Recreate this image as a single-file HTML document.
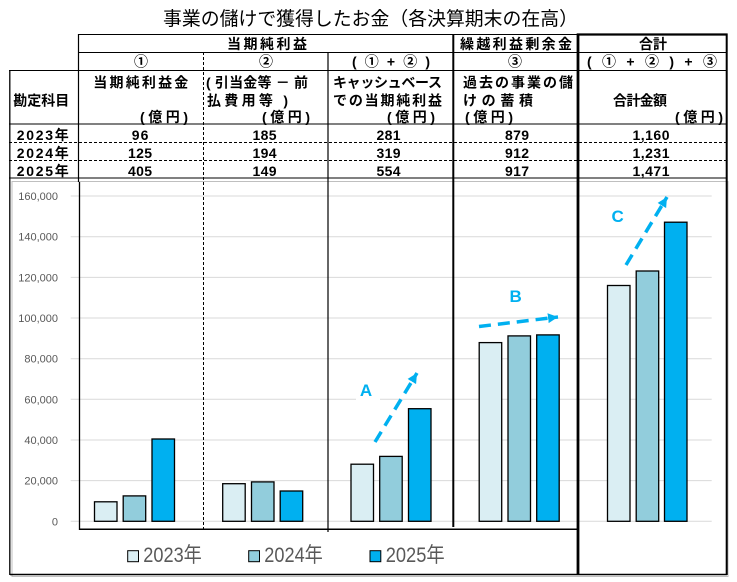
<!DOCTYPE html>
<html><head><meta charset="utf-8"><style>
html,body{margin:0;padding:0;background:#fff;}
svg{display:block;}
.t{font-family:"Liberation Sans","Noto Sans CJK JP",sans-serif;font-weight:bold;font-size:14px;fill:#000;}
.y{font-family:"Liberation Sans",sans-serif;font-size:11px;fill:#595959;}
.lg{font-family:"Liberation Sans","Noto Sans CJK JP",sans-serif;font-size:21px;fill:#595959;}
.ab{font-family:"Liberation Sans",sans-serif;font-weight:bold;font-size:17px;fill:#00B0F0;}
</style></head><body>
<svg width="737" height="582" viewBox="0 0 737 582" xmlns="http://www.w3.org/2000/svg">
<defs>
<marker id="ah" markerUnits="userSpaceOnUse" markerWidth="12" markerHeight="12" refX="10" refY="5" orient="auto">
<path d="M0,0 L10,5 L0,10 z" fill="#00B0F0"/>
</marker>
</defs>
<rect x="0" y="0" width="737" height="582" fill="#fff"/>

<!-- Title -->
<text x="163" y="25" textLength="415" lengthAdjust="spacingAndGlyphs" style="font-family:'Liberation Sans','Noto Sans CJK JP',sans-serif;font-size:19px;fill:#000;">事業の儲けで獲得したお金（各決算期末の在高）</text>

<!-- chart gray border -->
<rect x="12" y="181.5" width="716" height="395" fill="none" stroke="#BFBFBF" stroke-width="1"/>

<!-- gridlines -->
<g stroke="#D9D9D9" stroke-width="1">
<line x1="70.7" x2="711.7" y1="521.3" y2="521.3"/>
<line x1="70.7" x2="711.7" y1="480.6" y2="480.6"/>
<line x1="70.7" x2="711.7" y1="440" y2="440"/>
<line x1="70.7" x2="711.7" y1="399.3" y2="399.3"/>
<line x1="70.7" x2="711.7" y1="358.7" y2="358.7"/>
<line x1="70.7" x2="711.7" y1="318" y2="318"/>
<line x1="70.7" x2="711.7" y1="277.4" y2="277.4"/>
<line x1="70.7" x2="711.7" y1="236.7" y2="236.7"/>
<line x1="70.7" x2="711.7" y1="196" y2="196"/>
</g>

<!-- y labels -->
<g class="y" text-anchor="end">
<text x="58" y="525.3">0</text>
<text x="58" y="484.6">20,000</text>
<text x="58" y="444">40,000</text>
<text x="58" y="403.3">60,000</text>
<text x="58" y="362.7">80,000</text>
<text x="58" y="322">100,000</text>
<text x="58" y="281.4">120,000</text>
<text x="58" y="240.7">140,000</text>
<text x="58" y="200">160,000</text>
</g>

<!-- bars -->
<g stroke="#000" stroke-width="1.3">
<rect x="94.5" y="501.8" width="22.5" height="19.5" fill="#DAEEF3"/>
<rect x="123.2" y="495.9" width="22.5" height="25.4" fill="#92CDDC"/>
<rect x="152" y="439.0" width="22.5" height="82.3" fill="#00B0F0"/>

<rect x="222.7" y="483.7" width="22.5" height="37.6" fill="#DAEEF3"/>
<rect x="251.5" y="481.9" width="22.5" height="39.4" fill="#92CDDC"/>
<rect x="280.2" y="491.0" width="22.5" height="30.3" fill="#00B0F0"/>

<rect x="351" y="464.2" width="22.5" height="57.1" fill="#DAEEF3"/>
<rect x="379.7" y="456.4" width="22.5" height="64.9" fill="#92CDDC"/>
<rect x="408.5" y="408.7" width="22.5" height="112.6" fill="#00B0F0"/>

<rect x="479.2" y="342.6" width="22.5" height="178.7" fill="#DAEEF3"/>
<rect x="508" y="335.9" width="22.5" height="185.4" fill="#92CDDC"/>
<rect x="536.7" y="334.9" width="22.5" height="186.4" fill="#00B0F0"/>

<rect x="607.5" y="285.5" width="22.5" height="235.8" fill="#DAEEF3"/>
<rect x="636.2" y="271.0" width="22.5" height="250.3" fill="#92CDDC"/>
<rect x="664.5" y="222.2" width="22.5" height="299.1" fill="#00B0F0"/>
</g>

<!-- arrows & labels -->
<rect x="356" y="378" width="24" height="24" fill="#fff"/>
<text class="ab" x="366" y="396" text-anchor="middle">A</text>
<text class="ab" x="515.7" y="302" text-anchor="middle">B</text>
<text class="ab" x="617.7" y="222" text-anchor="middle">C</text>
<g stroke="#00B0F0" stroke-width="3.5" stroke-dasharray="12,7" fill="none">
<line x1="375" y1="442" x2="417" y2="373" marker-end="url(#ah)"/>
<line x1="479" y1="326.5" x2="558" y2="317" marker-end="url(#ah)"/>
<line x1="626" y1="265" x2="667" y2="197" marker-end="url(#ah)"/>
</g>

<!-- table horizontal lines -->
<g stroke="#000" stroke-width="1">
<line x1="78" x2="578" y1="34.5" y2="34.5"/>
<line x1="78" x2="727" y1="52.5" y2="52.5"/>
<line x1="9" x2="727" y1="70.5" y2="70.5"/>
<line x1="9" x2="727" y1="124" y2="124"/>
<line x1="9" x2="727" y1="178" y2="178"/>
<line x1="9" x2="727" y1="142.5" y2="142.5" stroke-dasharray="3,2"/>
<line x1="9" x2="727" y1="160.5" y2="160.5" stroke-dasharray="3,2"/>
<line x1="10" x2="727" y1="574.5" y2="574.5" stroke-width="1.5"/>
<line x1="79.5" x2="578" y1="529.3" y2="529.3" stroke-width="1.5"/>
</g>
<line x1="577" x2="727.5" y1="34.5" y2="34.5" stroke="#000" stroke-width="2.2"/>

<!-- verticals -->
<g stroke="#000">
<line x1="9.8" x2="9.8" y1="70" y2="575" stroke-width="1.3"/>
<line x1="78.5" x2="78.5" y1="34" y2="182" stroke-width="1.2"/>
<line x1="79.5" x2="79.5" y1="182" y2="530" stroke-width="1.3"/>
<line x1="203.5" x2="203.5" y1="52" y2="529" stroke-width="1" stroke-dasharray="3,2"/>
<line x1="328" x2="328" y1="52" y2="532" stroke-width="1.2"/>
<line x1="453.3" x2="453.3" y1="34" y2="527" stroke-width="2"/>
<line x1="578" x2="578" y1="33.5" y2="575" stroke-width="2.8"/>
<line x1="726.7" x2="726.7" y1="33.5" y2="575" stroke-width="2"/>
</g>

<!-- table text row 1 -->
<g class="t">
<text x="227" y="49" textLength="80" lengthAdjust="spacing">当期純利益</text>
<text x="460" y="49" textLength="112" lengthAdjust="spacing">繰越利益剰余金</text>
<text x="639" y="49" textLength="28" lengthAdjust="spacing">合計</text>

<!-- row 2 -->
<text x="141" y="66.5" text-anchor="middle">①</text>
<text x="266" y="66.5" text-anchor="middle">②</text>
<text x="352" y="66.5" textLength="78" lengthAdjust="spacing">( ① + ② )</text>
<text x="515" y="66.5" text-anchor="middle">③</text>
<text x="587" y="66.5" textLength="130" lengthAdjust="spacing">( ① + ② ) + ③</text>

<!-- row 3 line 1 -->
<text x="93.3" y="87.5" textLength="95" lengthAdjust="spacing">当期純利益金</text>
<text x="206" y="87.5" textLength="102" lengthAdjust="spacing">( 引当金等 － 前</text>
<text x="333" y="87.5" textLength="109" lengthAdjust="spacing">キャッシュベース</text>
<text x="463" y="87.5" textLength="110" lengthAdjust="spacing">過去の事業の儲</text>

<!-- row 3 line 2 -->
<text x="13.3" y="105.5" textLength="56" lengthAdjust="spacing">勘定科目</text>
<text x="207" y="105.5" textLength="81" lengthAdjust="spacing">払費用等 )</text>
<text x="333" y="105.5" textLength="109" lengthAdjust="spacing">での当期純利益</text>
<text x="463" y="105.5" textLength="70" lengthAdjust="spacing">けの蓄積</text>
<text x="613" y="105.5" textLength="54" lengthAdjust="spacing">合計金額</text>

<!-- row 3 line 3 -->
<text x="140" y="122" textLength="48" lengthAdjust="spacing">(億円)</text>
<text x="262" y="122" textLength="48" lengthAdjust="spacing">(億円)</text>
<text x="387" y="122" textLength="48" lengthAdjust="spacing">(億円)</text>
<text x="465" y="122" textLength="48" lengthAdjust="spacing">(億円)</text>
<text x="675" y="122" textLength="48" lengthAdjust="spacing">(億円)</text>

<!-- data rows -->
<text x="16.7" y="140" textLength="52" lengthAdjust="spacing">2023年</text>
<text x="16.7" y="158" textLength="52" lengthAdjust="spacing">2024年</text>
<text x="16.7" y="176" textLength="52" lengthAdjust="spacing">2025年</text>

<text x="131.7" y="140" textLength="16.7" lengthAdjust="spacing">96</text>
<text x="128" y="158" textLength="24" lengthAdjust="spacing">125</text>
<text x="128" y="176" textLength="24" lengthAdjust="spacing">405</text>

<text x="252.5" y="140" textLength="24" lengthAdjust="spacing">185</text>
<text x="252.5" y="158" textLength="24" lengthAdjust="spacing">194</text>
<text x="252.5" y="176" textLength="24" lengthAdjust="spacing">149</text>

<text x="376.5" y="140" textLength="24" lengthAdjust="spacing">281</text>
<text x="376.5" y="158" textLength="24" lengthAdjust="spacing">319</text>
<text x="376.5" y="176" textLength="24" lengthAdjust="spacing">554</text>

<text x="505" y="140" textLength="24" lengthAdjust="spacing">879</text>
<text x="505" y="158" textLength="24" lengthAdjust="spacing">912</text>
<text x="505" y="176" textLength="24" lengthAdjust="spacing">917</text>

<text x="632.5" y="140" textLength="37" lengthAdjust="spacing">1,160</text>
<text x="632.5" y="158" textLength="37" lengthAdjust="spacing">1,231</text>
<text x="632.5" y="176" textLength="37" lengthAdjust="spacing">1,471</text>
</g>

<!-- legend -->
<g stroke="#000" stroke-width="1">
<rect x="127.7" y="550.7" width="10.8" height="11" fill="#DAEEF3"/>
<rect x="248.7" y="550.7" width="10.8" height="11" fill="#92CDDC"/>
<rect x="370" y="550.7" width="10.8" height="11" fill="#00B0F0"/>
</g>
<text class="lg" x="143.3" y="562" textLength="58.5" lengthAdjust="spacingAndGlyphs">2023年</text>
<text class="lg" x="264.3" y="562" textLength="58.5" lengthAdjust="spacingAndGlyphs">2024年</text>
<text class="lg" x="385.7" y="562" textLength="59" lengthAdjust="spacingAndGlyphs">2025年</text>
</svg>
</body></html>
